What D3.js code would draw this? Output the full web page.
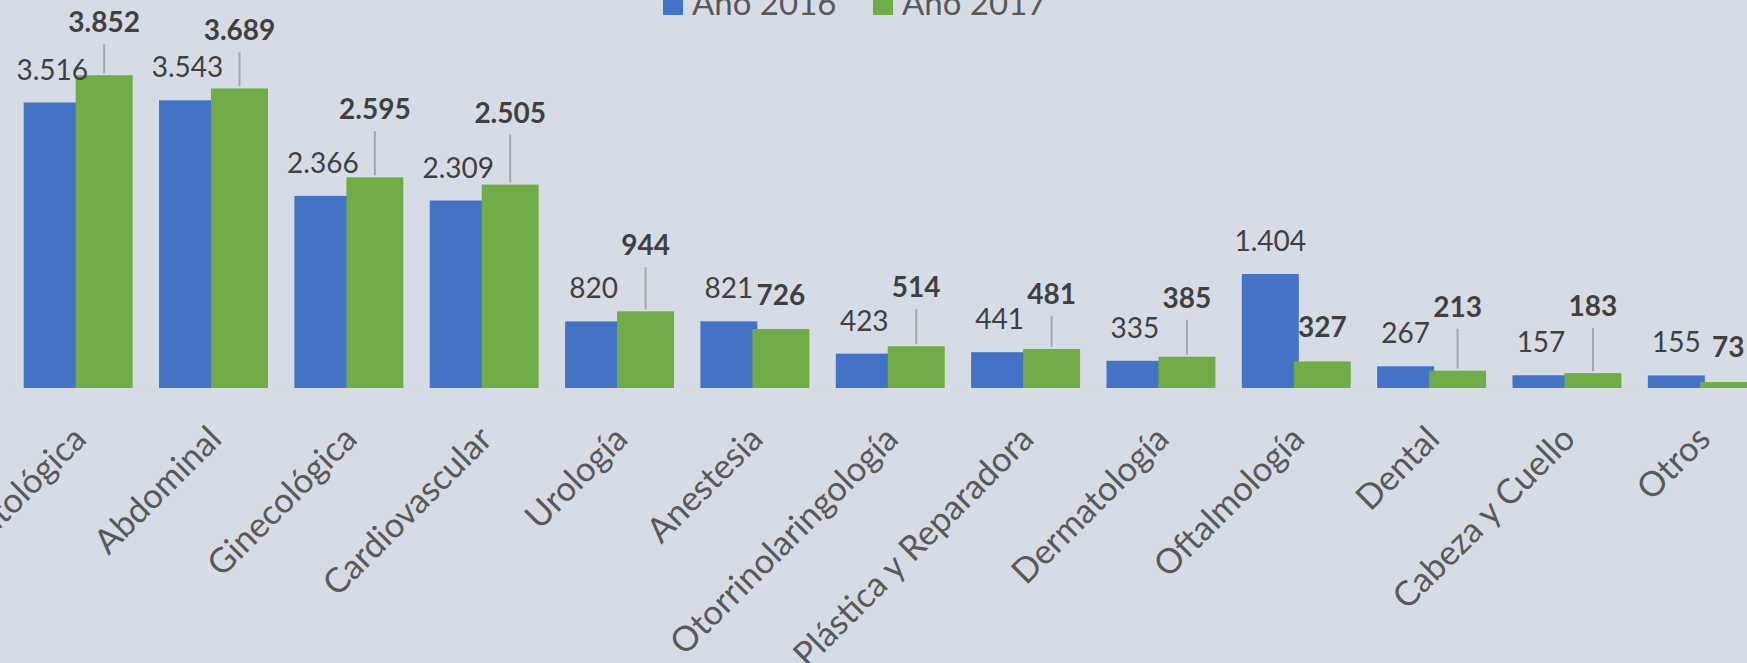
<!DOCTYPE html>
<html>
<head>
<meta charset="utf-8">
<script src="https://cdn.jsdelivr.net/npm/d3@7"></script>
<style>
  body { margin: 0; background: #d6dce5; }
  svg { display: block; font-family: Lato, sans-serif; }
</style>
</head>
<body>
<script>
// data
const categories = ["Traumatológica", "Abdominal", "Ginecológica", "Cardiovascular", "Urología",
  "Anestesia", "Otorrinolaringología", "Plástica y Reparadora", "Dermatología", "Oftalmología",
  "Dental", "Cabeza y Cuello", "Otros"];
const values2016 = [3516, 3543, 2366, 2309, 820, 821, 423, 441, 335, 1404, 267, 157, 155];
const values2017 = [3852, 3689, 2595, 2505, 944, 726, 514, 481, 385, 327, 213, 183, 73];
const seriesNames = ["Año 2016", "Año 2017"];

// how far the bold 2017 labels were dragged above their bars (px)
const lift2017 = [43, 48, 58, 62, 56, 24, 49, 45, 49, 24, 54, 57, 25];

const width = 1747, height = 663;
const colors = ["#4472c4", "#70ad47"];
const base = 388;

const fmt = d3.formatLocale({decimal: ",", thousands: ".", grouping: [3], currency: ["", "€"]}).format(",d");

const x = d3.scaleBand()
    .domain(categories)
    .range([10.5, 1770])
    .paddingInner(0.195)
    .paddingOuter(0.0975);

const y = d3.scaleLinear()
    .domain([0, 4000])
    .range([base, 63.2]);

const overlap = 5;
const barW = (x.bandwidth() + overlap) / 2;

const svg = d3.select("body").append("svg")
    .attr("width", width)
    .attr("height", height)
    .attr("viewBox", [0, 0, width, height]);

// category axis
const gx = svg.append("g")
    .attr("transform", `translate(0,${base + 1})`)
    .call(d3.axisBottom(x).tickSize(0).tickSizeOuter(0));

gx.select(".domain")
    .attr("stroke", "#d9d9d9")
    .attr("stroke-width", 2);

gx.selectAll(".tick text")
    .attr("x", 0).attr("y", 0).attr("dy", 0)
    .attr("text-anchor", "end")
    .attr("transform", "translate(10,52) rotate(-45)")
    .attr("fill", "#595959")
    .style("font-family", "Lato, sans-serif")
    .style("font-size", "34.5px");

const rows = categories.map((c, i) => ({c, v16: values2016[i], v17: values2017[i], lift: lift2017[i]}));

// bars
svg.append("g")
    .attr("fill", colors[0])
  .selectAll("rect")
  .data(rows)
  .join("rect")
    .attr("x", d => x(d.c))
    .attr("y", d => y(d.v16))
    .attr("width", barW)
    .attr("height", d => y(0) - y(d.v16));

svg.append("g")
    .attr("fill", colors[1])
  .selectAll("rect")
  .data(rows)
  .join("rect")
    .attr("x", d => x(d.c) + x.bandwidth() - barW)
    .attr("y", d => y(d.v17))
    .attr("width", barW)
    .attr("height", d => y(0) - y(d.v17));

// 2016 labels
svg.append("g")
    .attr("fill", "#404040")
    .attr("text-anchor", "middle")
    .style("font-size", "28px")
  .selectAll("text")
  .data(rows)
  .join("text")
    .attr("x", d => x(d.c) + barW / 2)
    .attr("y", d => y(d.v16) - 23)
    .text(d => fmt(d.v16));

// 2017 leader lines + labels
const cx17 = d => x(d.c) + x.bandwidth() - barW / 2;

svg.append("g")
    .attr("stroke", "#a6a6a6")
    .attr("stroke-width", 2)
  .selectAll("line")
  .data(rows.filter(d => d.lift > 30))
  .join("line")
    .attr("x1", cx17).attr("x2", cx17)
    .attr("y1", d => y(d.v17) - d.lift + 12)
    .attr("y2", d => y(d.v17) - 2);

svg.append("g")
    .attr("fill", "#404040")
    .attr("text-anchor", "middle")
    .style("font-size", "28px")
    .style("font-weight", "bold")
  .selectAll("text")
  .data(rows)
  .join("text")
    .attr("x", cx17)
    .attr("y", d => y(d.v17) - d.lift)
    .text(d => fmt(d.v17));

// legend (cut by the top edge like the original)
const legendX = [663, 873];
const legend = svg.append("g")
  .selectAll("g")
  .data(seriesNames)
  .join("g")
    .attr("transform", (d, i) => `translate(${legendX[i]},0)`);

legend.append("rect")
    .attr("y", -5)
    .attr("width", 20)
    .attr("height", 20)
    .attr("fill", (d, i) => colors[i]);

legend.append("text")
    .attr("x", 29)
    .attr("y", 15)
    .attr("fill", "#595959")
    .style("font-size", "33px")
    .text(d => d);
</script>
</body>
</html>
